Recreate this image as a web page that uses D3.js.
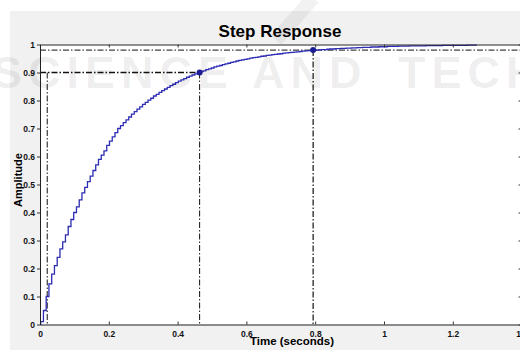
<!DOCTYPE html>
<html>
<head>
<meta charset="utf-8">
<script src="https://cdn.jsdelivr.net/npm/d3@7"></script>
<style>
  html, body { margin: 0; padding: 0; background: #ffffff; }
  svg { display: block; }
  text { font-family: "Liberation Sans", Arial, Helvetica, sans-serif; }
</style>
</head>
<body>
<script>
// Step response samples (zero-order hold), amplitude per sample
const stepValues = [
  0, 0.01, 0.05, 0.10, 0.145, 0.18, 0.21, 0.24, 0.27, 0.295,
  0.32, 0.35, 0.375, 0.40, 0.42, 0.445, 0.47, 0.49, 0.51, 0.53,
  0.55, 0.57, 0.59, 0.605, 0.62, 0.64, 0.655, 0.67, 0.685, 0.70,
  0.710, 0.721, 0.731, 0.741, 0.751, 0.760, 0.769, 0.777, 0.786, 0.793,
  0.801, 0.808, 0.816, 0.822, 0.829, 0.835, 0.841, 0.847, 0.853, 0.858,
  0.864, 0.869, 0.874, 0.878, 0.883, 0.887, 0.891, 0.895, 0.899, 0.903,
  0.906, 0.910, 0.913, 0.916, 0.920, 0.923, 0.925, 0.928, 0.931, 0.933,
  0.936, 0.938, 0.941, 0.943, 0.945, 0.947, 0.949, 0.951, 0.953, 0.954,
  0.956, 0.958, 0.959, 0.961, 0.962, 0.964, 0.965, 0.966, 0.967, 0.969,
  0.970, 0.971, 0.972, 0.973, 0.974, 0.975, 0.976, 0.977, 0.978, 0.979,
  0.980, 0.980, 0.981, 0.982, 0.982, 0.983, 0.984, 0.984, 0.985, 0.985,
  0.986, 0.986, 0.987, 0.987, 0.988, 0.988, 0.989, 0.989, 0.990, 0.990,
  0.990, 0.991, 0.991, 0.991, 0.992, 0.992, 0.992, 0.993, 0.993, 0.993,
  0.993, 0.994, 0.994, 0.994, 0.994, 0.995, 0.995, 0.995, 0.995, 0.995,
  0.995, 0.996, 0.996, 0.996, 0.996, 0.996, 0.996, 0.997, 0.997, 0.997,
  0.997, 0.997, 0.997, 0.997, 0.997, 0.997, 0.998, 0.998, 0.998, 0.998
];
const firstSampleTime = 0.002;   // s
const samplePeriod = 0.008;      // s
const endTime = 1.27;            // s

// Characteristic points
const riseTimes = [0.021, 0.464];
const riseLevels = [0.1, 0.9];
const settleTime = 0.794;
const settleLevel = 0.98;

// Axis ticks
const xTicks = [0, 0.2, 0.4, 0.6, 0.8, 1, 1.2, 1.4];
const xTickLabels = ["0", "0.2", "0.4", "0.6", "0.8", "1", "1.2", "1.4"];
const yTicks = [0, 0.1, 0.2, 0.3, 0.4, 0.5, 0.6, 0.7, 0.8, 0.9, 1];
const yTickLabels = ["0", "0.1", "0.2", "0.3", "0.4", "0.5", "0.6", "0.7", "0.8", "0.9", "1"];

const W = 520, H = 350;
const svg = d3.select("body").append("svg").attr("width", W).attr("height", H);

// figure background
svg.append("rect").attr("x", 10).attr("y", 11).attr("width", W - 10).attr("height", H - 11)
  .attr("fill", "#f1f1f1");

const x = d3.scaleLinear().domain([0, 1.4]).range([40, 521.6]);
const y = d3.scaleLinear().domain([0, 1]).range([324.5, 44.5]);

// axes area
svg.append("rect")
  .attr("x", x(0)).attr("y", y(1))
  .attr("width", x(1.4) - x(0)).attr("height", y(0) - y(1))
  .attr("fill", "#ffffff");

const dashDot = "6,2,1.5,2";
const guides = svg.append("g").attr("fill", "none").attr("stroke", "#111")
  .attr("stroke-dasharray", dashDot);

// settling level across the axes
guides.append("line")
  .attr("x1", x(0)).attr("x2", x(1.4))
  .attr("y1", y(settleLevel)).attr("y2", y(settleLevel))
  .attr("stroke-width", 1);
// rise level line
guides.append("line")
  .attr("x1", x(0)).attr("x2", x(riseTimes[1]))
  .attr("y1", y(riseLevels[1])).attr("y2", y(riseLevels[1]))
  .attr("stroke-width", 1.4);
// rise time verticals
riseTimes.forEach(t => {
  guides.append("line")
    .attr("x1", x(t)).attr("x2", x(t))
    .attr("y1", y(riseLevels[1])).attr("y2", y(0))
    .attr("stroke-width", 1);
});
// settling time vertical
guides.append("line")
  .attr("x1", x(settleTime)).attr("x2", x(settleTime))
  .attr("y1", y(settleLevel)).attr("y2", y(0))
  .attr("stroke-width", 1.2);

// step response stairs
const pts = stepValues.map((v, i) => [i === 0 ? 0 : firstSampleTime + samplePeriod * (i - 1), v]);
pts.push([endTime, stepValues[stepValues.length - 1]]);
const stair = d3.line().x(d => x(d[0])).y(d => y(d[1])).curve(d3.curveStepAfter);
svg.append("path").datum(pts)
  .attr("d", stair)
  .attr("fill", "none")
  .attr("stroke", "#2c2cb4")
  .attr("stroke-width", 1.3);

// characteristic point markers
svg.append("g").selectAll("circle")
  .data([[riseTimes[1], riseLevels[1]], [settleTime, settleLevel]])
  .join("circle")
  .attr("cx", d => x(d[0])).attr("cy", d => y(d[1]))
  .attr("r", 3)
  .attr("fill", "#1c1c96");

// axes
const tickFont = g => g.selectAll("text")
  .attr("font-size", 8.5).attr("font-weight", "bold").attr("fill", "#111")
  .style("font-family", '"Liberation Sans", Arial, sans-serif');

const xAxis = svg.append("g").attr("transform", `translate(0,${y(0)})`)
  .call(d3.axisBottom(x).tickValues(xTicks)
    .tickFormat((d, i) => xTickLabels[i]).tickSize(-3).tickSizeOuter(0).tickPadding(6))
  .call(tickFont);
xAxis.select(".domain").attr("stroke", "#222");
xAxis.selectAll(".tick line").attr("stroke", "#333");

const xTop = svg.append("g").attr("transform", `translate(0,${y(1)})`)
  .call(d3.axisTop(x).tickValues(xTicks).tickFormat("").tickSize(-3).tickSizeOuter(0));
xTop.select(".domain").attr("stroke", "#222");
xTop.selectAll(".tick line").attr("stroke", "#333");

const yAxis = svg.append("g").attr("transform", `translate(${x(0)},0)`)
  .call(d3.axisLeft(y).tickValues(yTicks)
    .tickFormat((d, i) => yTickLabels[i]).tickSize(3).tickSizeOuter(0).tickPadding(2))
  .call(tickFont);
yAxis.select(".domain").attr("stroke", "#222");
yAxis.selectAll(".tick line").attr("stroke", "#333");

const yRight = svg.append("g").attr("transform", `translate(${x(1.4)},0)`)
  .call(d3.axisRight(y).tickValues(yTicks).tickFormat("").tickSize(-3).tickSizeOuter(0));
yRight.select(".domain").attr("stroke", "#222");
yRight.selectAll(".tick line").attr("stroke", "#333");

// titles
svg.append("text")
  .attr("x", 280).attr("y", 36.5)
  .attr("text-anchor", "middle")
  .attr("font-size", 17).attr("font-weight", "bold").attr("fill", "#000")
  .text("Step Response");

svg.append("text")
  .attr("x", 292).attr("y", 345)
  .attr("text-anchor", "middle")
  .attr("font-size", 11.5).attr("font-weight", "bold").attr("fill", "#000")
  .text("Time (seconds)");

svg.append("text")
  .attr("transform", "translate(22,180) rotate(-90)")
  .attr("text-anchor", "middle")
  .attr("font-size", 11).attr("font-weight", "bold").attr("fill", "#000")
  .text("Amplitude");

// faint publisher overlay
const mark = svg.append("g").attr("fill", "#000").attr("fill-opacity", 0.07)
  .attr("font-size", 45).attr("font-weight", "bold").attr("letter-spacing", 6);
mark.append("text").attr("x", -8).attr("y", 88).text("SCIENCE");
mark.append("text").attr("x", 252).attr("y", 88).text("AND");
mark.append("text").attr("x", 398).attr("y", 88).text("TECHNOLOGY");
svg.append("path")
  .attr("d", "M313,-2 L276,40")
  .attr("stroke", "#000").attr("stroke-opacity", 0.05).attr("stroke-width", 14);
</script>
</body>
</html>
